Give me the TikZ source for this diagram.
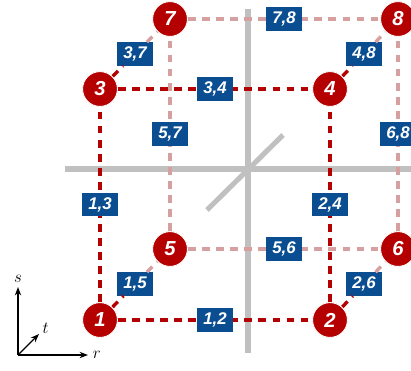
\documentclass[tikz,border=0pt]{standalone}
\usepackage{fontspec}
\setsansfont{Liberation Sans}
\usepackage{tikz}
\usetikzlibrary{arrows.meta, positioning}

\definecolor{frontred}{RGB}{180,0,0}
\definecolor{backpink}{RGB}{214,160,160}
\definecolor{labelblue}{RGB}{10,78,145}
\definecolor{crossgray}{RGB}{192,192,192}

\begin{document}
\begin{tikzpicture}[x=0.025cm, y=-0.025cm]
				% Styles
				\tikzstyle{vertex} = [circle, fill=frontred, draw=white, line width=0.6pt, minimum size=0.87cm, inner sep=0pt, text=white, font=\Large\sffamily\bfseries\itshape]
				\tikzstyle{pair} = [rectangle, fill=labelblue, minimum height=16.5pt, inner xsep=4.5pt, inner ysep=0pt, text=white, font=\large\sffamily\bfseries\itshape]
				\tikzstyle{front} = [frontred, line width=2.4pt, dash pattern=on 5.5pt off 4.5pt]
				\tikzstyle{back} = [backpink, line width=2.4pt, dash pattern=on 5.5pt off 4.5pt]
				\tikzstyle{plane} = [crossgray, line width=3.6pt]
				\tikzstyle{axis} = [thick, -{Stealth[length=6pt]}]

				\useasboundingbox (0,0) rectangle (411,370);

				% Cross of the planes
				\draw [plane] (65,169) -- (411,169);
				\draw [plane] (248,9) -- (248,353);
				\draw [plane] (207,210) -- (283,135);

				% Vertices with absolute coordinates
				\node (v1) [vertex] at (100,320) {1};
				\node (v2) [vertex] at (330,320) {2};
				\node (v3) [vertex] at (100,89) {3};
				\node (v4) [vertex] at (330,89) {4};
				\node (v5) [vertex] at (170,249) {5};
				\node (v6) [vertex] at (398,249) {6};
				\node (v7) [vertex] at (170,19) {7};
				\node (v8) [vertex] at (398,19) {8};

				% Labels of the depth edges
				\node (p15) [pair] at (135,284) {1,5};
				\node (p26) [pair] at (364,284) {2,6};
				\node (p37) [pair] at (135,54) {3,7};
				\node (p48) [pair] at (364,54) {4,8};

				% Back face
				\draw [back] (v5) -- node [pair] {5,6} (v6);
				\draw [back] (v7) -- node [pair] {7,8} (v8);
				\draw [back] (v5) -- node [pair] {5,7} (v7);
				\draw [back] (v6) -- node [pair] {6,8} (v8);

				% Depth edges
				\draw [front] (v1) -- (p15);
				\draw [back] (p15) -- (v5);
				\draw [front] (v2) -- (p26);
				\draw [back] (p26) -- (v6);
				\draw [front] (v3) -- (p37);
				\draw [back] (p37) -- (v7);
				\draw [front] (v4) -- (p48);
				\draw [back] (p48) -- (v8);

				% Front face
				\draw [front] (v1) -- node [pair] {1,2} (v2);
				\draw [front] (v3) -- node [pair] {3,4} (v4);
				\draw [front] (v1) -- node [pair] {1,3} (v3);
				\draw [front] (v2) -- node [pair] {2,4} (v4);

				% Vertices again on top
				\foreach \v in {1,...,8}
					\node [vertex] at (v\v) {\v};

				% Axes
				\coordinate (o) at (18,355);
				\coordinate (s) at (18,287);
				\coordinate (r) at (88,355);
				\coordinate (t) at (39,334);
				\draw [axis] (o) -- (s);
				\draw [axis] (o) -- (r);
				\draw [axis] (o) -- (t);
				\node (sl) [above=0pt of s, font=\large] {$s$};
				\node (rl) [right=0pt of r, font=\large] {$r$};
				\node (tl) [above right=-3pt and -1pt of t, font=\large] {$t$};

			\end{tikzpicture}
\end{document}
